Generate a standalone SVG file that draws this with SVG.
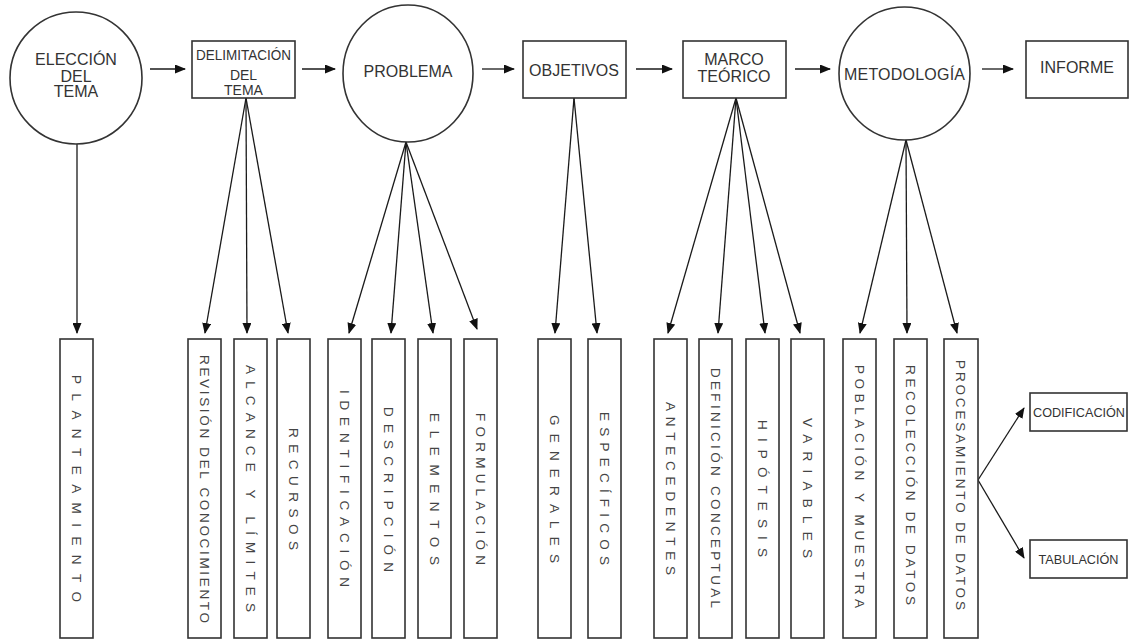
<svg xmlns="http://www.w3.org/2000/svg" width="1130" height="639" viewBox="0 0 1130 639">
<style>
.shape{fill:#fff;stroke:#333;stroke-width:1.6}
.t{font-family:"Liberation Sans",Arial,sans-serif;font-size:16px;fill:#333;text-anchor:middle}
.d{font-family:"Liberation Sans",Arial,sans-serif;font-size:14px;fill:#333;text-anchor:middle}
.v{font-family:"Liberation Sans",Arial,sans-serif;font-size:13.5px;fill:#444;text-anchor:middle}
.s{font-family:"Liberation Sans",Arial,sans-serif;font-size:13px;fill:#333;text-anchor:middle}
.c{fill:none;stroke:#1a1a1a;stroke-width:1.3;marker-end:url(#ah)}
</style>
<defs>
<marker id="ah" markerUnits="userSpaceOnUse" markerWidth="11" markerHeight="9" refX="10" refY="4.5" orient="auto">
<path d="M0,0 L11,4.5 L0,9 z" fill="#111"/>
</marker>
</defs>
<rect width="1130" height="639" fill="#fff"/>

<g id="connectors">
<line class="c" x1="150" y1="69" x2="185" y2="69"/>
<line class="c" x1="302" y1="69" x2="335" y2="69"/>
<line class="c" x1="482" y1="69" x2="514" y2="69"/>
<line class="c" x1="636" y1="69" x2="672" y2="69"/>
<line class="c" x1="795" y1="69" x2="830" y2="69"/>
<line class="c" x1="982" y1="69" x2="1013" y2="69"/>
<line class="c" x1="77" y1="144" x2="77" y2="333"/>
<line class="c" x1="246" y1="98" x2="205" y2="333"/>
<line class="c" x1="246" y1="98" x2="247" y2="333"/>
<line class="c" x1="246" y1="98" x2="288" y2="333"/>
<line class="c" x1="406" y1="142" x2="349" y2="333"/>
<line class="c" x1="406" y1="142" x2="391" y2="333"/>
<line class="c" x1="406" y1="142" x2="433" y2="333"/>
<line class="c" x1="406" y1="142" x2="477" y2="329"/>
<line class="c" x1="574" y1="98" x2="555" y2="333"/>
<line class="c" x1="574" y1="98" x2="597" y2="333"/>
<line class="c" x1="736" y1="98" x2="668" y2="333"/>
<line class="c" x1="736" y1="98" x2="718" y2="333"/>
<line class="c" x1="736" y1="98" x2="765" y2="333"/>
<line class="c" x1="736" y1="98" x2="800" y2="333"/>
<line class="c" x1="906" y1="140" x2="860" y2="333"/>
<line class="c" x1="906" y1="140" x2="907" y2="333"/>
<line class="c" x1="906" y1="140" x2="957" y2="333"/>
<line class="c" x1="978" y1="480" x2="1024" y2="408"/>
<line class="c" x1="978" y1="480" x2="1024" y2="558"/>
</g>

<g id="eleccion">
<circle class="shape" cx="76" cy="78" r="66"/>
<text class="t" x="76" y="65">ELECCIÓN</text>
<text class="t" x="76" y="82">DEL</text>
<text class="t" x="76" y="97">TEMA</text>
</g>
<g id="delimitacion">
<rect class="shape" x="192" y="41" width="103" height="57"/>
<text class="d" x="243.5" y="60" textLength="95" lengthAdjust="spacingAndGlyphs">DELIMITACIÓN</text>
<text class="d" x="243.5" y="80">DEL</text>
<text class="d" x="243.5" y="94.5">TEMA</text>
</g>
<g id="problema">
<ellipse class="shape" cx="408" cy="73.5" rx="65" ry="68.5"/>
<text class="t" x="408" y="77">PROBLEMA</text>
</g>
<g id="objetivos">
<rect class="shape" x="523" y="41" width="103" height="57"/>
<text class="t" x="574" y="76">OBJETIVOS</text>
</g>
<g id="marco">
<rect class="shape" x="683" y="41" width="103" height="57"/>
<text class="t" x="734" y="65">MARCO</text>
<text class="t" x="734" y="82">TEÓRICO</text>
</g>
<g id="metodologia">
<ellipse class="shape" cx="904.5" cy="73.5" rx="65.5" ry="66.5"/>
<text class="t" x="904.5" y="80" textLength="121">METODOLOGÍA</text>
</g>
<g id="informe">
<rect class="shape" x="1026" y="41" width="102" height="57"/>
<text class="t" x="1077" y="73">INFORME</text>
</g>

<g id="planteamiento">
<rect class="shape" x="60" y="339" width="33" height="299"/>
<text class="v" transform="translate(76.5,488.5) rotate(90)" y="4.8" textLength="227">PLANTEAMIENTO</text>
</g>
<g id="revision">
<rect class="shape" x="188" y="339" width="33" height="299"/>
<text class="v" transform="translate(204.5,489) rotate(90)" y="4.8" textLength="268">REVISIÓN DEL CONOCIMIENTO</text>
</g>
<g id="alcance">
<rect class="shape" x="234" y="339" width="33" height="299"/>
<text class="v" transform="translate(250.5,488.5) rotate(90)" y="4.8" textLength="247">ALCANCE Y LÍMITES</text>
</g>
<g id="recursos">
<rect class="shape" x="277" y="339" width="33" height="299"/>
<text class="v" transform="translate(293.5,489) rotate(90)" y="4.8" textLength="122">RECURSOS</text>
</g>
<g id="identificacion">
<rect class="shape" x="328" y="339" width="33" height="299"/>
<text class="v" transform="translate(344.5,488.5) rotate(90)" y="4.8" textLength="197">IDENTIFICACIÓN</text>
</g>
<g id="descripcion">
<rect class="shape" x="372" y="339" width="33" height="299"/>
<text class="v" transform="translate(388.5,489.5) rotate(90)" y="4.8" textLength="165">DESCRIPCIÓN</text>
</g>
<g id="elementos">
<rect class="shape" x="418" y="339" width="33" height="299"/>
<text class="v" transform="translate(434.5,489) rotate(90)" y="4.8" textLength="152">ELEMENTOS</text>
</g>
<g id="formulacion">
<rect class="shape" x="464" y="339" width="33" height="299"/>
<text class="v" transform="translate(480.5,489) rotate(90)" y="4.8" textLength="152">FORMULACIÓN</text>
</g>
<g id="generales">
<rect class="shape" x="538" y="339" width="33" height="299"/>
<text class="v" transform="translate(554.5,489) rotate(90)" y="4.8" textLength="148">GENERALES</text>
</g>
<g id="especificos">
<rect class="shape" x="588" y="339" width="33" height="299"/>
<text class="v" transform="translate(604.5,488.5) rotate(90)" y="4.8" textLength="153">ESPECÍFICOS</text>
</g>
<g id="antecedentes">
<rect class="shape" x="654" y="339" width="33" height="299"/>
<text class="v" transform="translate(670.5,488.5) rotate(90)" y="4.8" textLength="173">ANTECEDENTES</text>
</g>
<g id="definicion">
<rect class="shape" x="699" y="339" width="33" height="299"/>
<text class="v" transform="translate(715.5,488) rotate(90)" y="4.8" textLength="240">DEFINICIÓN CONCEPTUAL</text>
</g>
<g id="hipotesis">
<rect class="shape" x="746" y="339" width="33" height="299"/>
<text class="v" transform="translate(762.5,488.5) rotate(90)" y="4.8" textLength="137">HIPÓTESIS</text>
</g>
<g id="variables">
<rect class="shape" x="791" y="339" width="33" height="299"/>
<text class="v" transform="translate(807.5,488) rotate(90)" y="4.8" textLength="140">VARIABLES</text>
</g>
<g id="poblacion">
<rect class="shape" x="843" y="339" width="33" height="299"/>
<text class="v" transform="translate(859.5,486.5) rotate(90)" y="4.8" textLength="243">POBLACIÓN Y MUESTRA</text>
</g>
<g id="recoleccion">
<rect class="shape" x="894" y="339" width="33" height="299"/>
<text class="v" transform="translate(910.5,485) rotate(90)" y="4.8" textLength="240">RECOLECCIÓN DE DATOS</text>
</g>
<g id="procesamiento">
<rect class="shape" x="944" y="339" width="34" height="299"/>
<text class="v" transform="translate(961,485) rotate(90)" y="4.8" textLength="250">PROCESAMIENTO DE DATOS</text>
</g>
<g id="codificacion">
<rect class="shape" x="1030" y="393" width="97" height="38"/>
<text class="s" x="1079" y="417" textLength="92" lengthAdjust="spacingAndGlyphs">CODIFICACIÓN</text>
</g>
<g id="tabulacion">
<rect class="shape" x="1030" y="540" width="97" height="38"/>
<text class="s" x="1078.5" y="564" textLength="80" lengthAdjust="spacingAndGlyphs">TABULACIÓN</text>
</g>
</svg>
